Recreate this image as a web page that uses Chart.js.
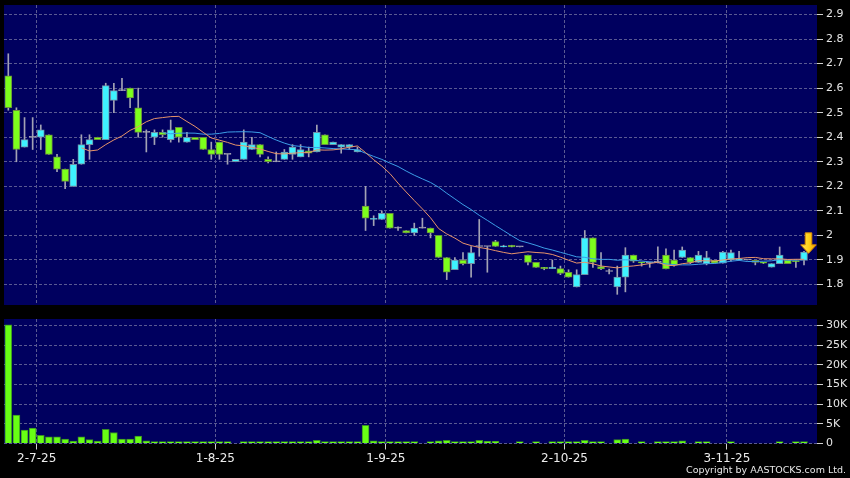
<!DOCTYPE html>
<html><head><meta charset="utf-8">
<script src="https://cdn.jsdelivr.net/npm/chart.js@4.4.1/dist/chart.umd.min.js"></script>
<style>
html,body{margin:0;padding:0;background:#000;width:850px;height:478px;overflow:hidden}
#wrap{position:relative;width:850px;height:478px;background:#000}
#pc{position:absolute;left:0;top:0}
#vc{position:absolute;left:0;top:312px}
#copy{position:absolute;right:4px;top:464px;color:#e8e8e8;font:9.5px "DejaVu Sans",sans-serif;line-height:12px;white-space:nowrap}
</style></head><body>
<div id="wrap">
<canvas id="pc" width="850" height="312"></canvas>
<canvas id="vc" width="850" height="166"></canvas>
<div id="copy">Copyright by AASTOCKS.com Ltd.</div>
</div>
<script>
// ---- data ----
const opens = [2.65,2.51,2.36,2.40,2.40,2.41,2.32,2.27,2.20,2.29, 2.37,2.40,2.39,2.55,2.59,2.60,2.52,2.42,2.40,2.42, 2.39,2.44,2.38,2.40,2.40,2.35,2.38,2.33,2.30,2.31, 2.35,2.37,2.31,2.30,2.31,2.33,2.32,2.345,2.34,2.41, 2.37,2.36,2.36,2.34,2.12,2.065,2.065,2.09,2.03,2.02, 2.01,2.03,2.03,2.00,1.91,1.86,1.90,1.885,1.955,1.955, 1.975,1.953,1.96,1.953,1.92,1.89,1.87,1.865,1.865,1.85, 1.79,1.84,1.99,1.873,1.853,1.79,1.83,1.92,1.89,1.888, 1.89,1.92,1.90,1.91,1.91,1.89,1.885,1.898,1.887,1.90, 1.90,1.90,1.898,1.89,1.871,1.885,1.90,1.895,1.898];
const highs = [2.74,2.52,2.48,2.48,2.45,2.41,2.33,2.27,2.31,2.41, 2.41,2.40,2.62,2.62,2.64,2.60,2.60,2.43,2.43,2.43, 2.47,2.44,2.42,2.40,2.40,2.38,2.38,2.33,2.31,2.43, 2.40,2.37,2.32,2.34,2.35,2.37,2.37,2.36,2.45,2.41, 2.38,2.37,2.37,2.36,2.20,2.08,2.10,2.09,2.035,2.02, 2.05,2.07,2.03,2.00,1.91,1.91,1.93,1.955,2.065,1.955, 1.98,1.96,1.96,1.953,1.92,1.89,1.87,1.90,1.875,1.86, 1.86,2.02,1.99,1.93,1.863,1.875,1.95,1.92,1.89,1.89, 1.953,1.945,1.94,1.953,1.91,1.935,1.935,1.898,1.935,1.94, 1.935,1.90,1.898,1.89,1.885,1.953,1.90,1.895,1.935];
const lows = [2.51,2.30,2.36,2.35,2.35,2.33,2.26,2.19,2.20,2.29, 2.31,2.39,2.39,2.50,2.59,2.52,2.40,2.34,2.37,2.40, 2.38,2.38,2.38,2.39,2.35,2.31,2.31,2.29,2.30,2.31, 2.35,2.32,2.295,2.30,2.31,2.31,2.32,2.32,2.34,2.37, 2.37,2.335,2.35,2.34,2.02,2.04,2.065,2.03,2.02,2.01, 2.00,2.03,1.99,1.91,1.82,1.86,1.88,1.83,1.915,1.85, 1.955,1.953,1.953,1.953,1.88,1.87,1.86,1.865,1.84,1.83, 1.79,1.84,1.87,1.86,1.843,1.76,1.77,1.89,1.875,1.87, 1.888,1.863,1.875,1.91,1.885,1.89,1.88,1.887,1.887,1.895, 1.90,1.90,1.88,1.885,1.871,1.885,1.885,1.87,1.88];
const closes = [2.52,2.35,2.39,2.40,2.43,2.33,2.27,2.22,2.29,2.37, 2.39,2.39,2.61,2.59,2.59,2.56,2.42,2.42,2.42,2.41, 2.43,2.40,2.40,2.39,2.35,2.33,2.33,2.33,2.31,2.38, 2.37,2.33,2.30,2.30,2.34,2.36,2.35,2.335,2.42,2.37, 2.38,2.37,2.37,2.35,2.07,2.07,2.09,2.03,2.03,2.01, 2.03,2.03,2.01,1.91,1.85,1.90,1.885,1.93,1.955,1.955, 1.955,1.958,1.953,1.953,1.89,1.87,1.865,1.87,1.845,1.83, 1.84,1.99,1.89,1.863,1.853,1.83,1.92,1.895,1.888,1.888, 1.89,1.863,1.88,1.94,1.89,1.92,1.91,1.887,1.932,1.93, 1.905,1.90,1.89,1.887,1.885,1.92,1.885,1.893,1.932];
const volumes = [30100,7200,3400,3900,2100,1700,1700,1100,600,1700, 1000,600,3600,2800,1100,1100,1900,700,400,250, 300,450,100,100,300,350,150,150,0,300, 50,100,100,100,100,100,100,300,800,300, 100,100,100,300,4600,700,100,500,100,300, 500,0,100,700,800,100,100,100,800,550, 550,0,0,100,0,100,0,100,100,100, 100,800,100,100,0,1000,1100,0,50,0, 300,300,50,700,0,50,50,0,0,100, 0,0,0,0,0,200,0,100,500];
const dateTickPos = [3.5, 25.5, 46.5, 68.5, 88.5];
const dateTickLabels = ['2-7-25','1-8-25','1-9-25','2-10-25','3-11-25'];
const priceTicks = [1.8,1.9,2.0,2.1,2.2,2.3,2.4,2.5,2.6,2.7,2.8,2.9];
const priceTickLabels = ['1.8','1.9','2','2.1','2.2','2.3','2.4','2.5','2.6','2.7','2.8','2.9'];
const volTicks = [0,5000,10000,15000,20000,25000,30000];
const volTickLabels = ['0','5K','10K','15K','20K','25K','30K'];
const maShortLen = 10, maLongLen = 20;

// ---- helpers ----
function sma(arr, n){ return arr.map((_, i) => i < n-1 ? null : arr.slice(i-n+1, i+1).reduce((a,b)=>a+b,0)/n); }
const idx = closes.map((_, i) => i);
const maShort = sma(closes, maShortLen);
const maLong = sma(closes, maLongLen);

Chart.defaults.font.family = '"DejaVu Sans", sans-serif';
const GRID = '#5a5a92';
const X_MIN = -0.53, X_MAX = 99.6;
const PLOT_BG = '#00005f';

const bgPlugin = { id:'plotbg', beforeDraw(chart){ const {ctx, chartArea:a} = chart; ctx.save(); ctx.fillStyle = PLOT_BG; ctx.fillRect(a.left, a.top, a.right-a.left, a.bottom-a.top); ctx.restore(); } };

function noPad(s){ s.paddingTop = 0; s.paddingBottom = 0; s.paddingLeft = 0; s.paddingRight = 0; }

function xScale(showLabels){
  return {
    type:'linear', min:X_MIN, max:X_MAX, offset:false,
    afterBuildTicks: s => { s.ticks = dateTickPos.map(v => ({value:v})); },
    ticks:{ display:showLabels, callback:(v,i)=>dateTickLabels[i], color:'#ececec', font:{size:12}, padding:2, maxRotation:0, autoSkip:false },
    grid:{ color:GRID, lineWidth:1, offset:false, drawTicks:showLabels, tickLength:6, tickColor:'#d0d0d0', tickBorderDash:[] },
    border:{ display:false, dash:[3,2] },
    afterFit: s => { s.height = showLabels ? 34.5 : 0; noPad(s); }
  };
}
function yScale(min, max, ticks, labels){
  return {
    type:'linear', position:'right', min:min, max:max,
    afterBuildTicks: s => { s.ticks = ticks.map(v => ({value:v})); },
    ticks:{ callback:(v,i)=>labels[i], color:'#e6e6e6', font:{size:11}, padding:3 },
    grid:{ color:GRID, lineWidth:1, drawTicks:true, tickLength:6, tickColor:'#d0d0d0', tickBorderDash:[] },
    border:{ display:false, dash:[3,2] },
    afterFit: s => { s.width = 33; noPad(s); }
  };
}

const UP = '#3ef2ff', UP_B = '#6f8ea6', DN = '#7dff1c', DN_B = '#6b8f3e', FLAT = '#a0a0b0';
const bodyColor = idx.map(i => closes[i] > opens[i] ? UP : (closes[i] < opens[i] ? DN : FLAT));
const bodyBorder = idx.map(i => closes[i] > opens[i] ? UP_B : (closes[i] < opens[i] ? DN_B : FLAT));

const arrowPlugin = { id:'arrow', afterDatasetsDraw(chart){
  const i = closes.length - 1;
  const cx = chart.scales.x.getPixelForValue(i) + 4.5;
  const tip = chart.scales.y.getPixelForValue(highs[i]) + 2;
  const ctx = chart.ctx;
  ctx.save();
  ctx.beginPath();
  ctx.moveTo(cx-3.3, tip-20.5); ctx.lineTo(cx+3.3, tip-20.5); ctx.lineTo(cx+3.3, tip-8.5);
  ctx.lineTo(cx+7.8, tip-8.5); ctx.lineTo(cx, tip); ctx.lineTo(cx-7.8, tip-8.5); ctx.lineTo(cx-3.3, tip-8.5);
  ctx.closePath();
  const g = ctx.createLinearGradient(cx-7.8, 0, cx+7.8, 0);
  g.addColorStop(0, '#ffe75a'); g.addColorStop(0.5, '#ffd21a'); g.addColorStop(1, '#f0a000');
  ctx.fillStyle = g; ctx.fill();
  ctx.strokeStyle = '#d98a00'; ctx.lineWidth = 1; ctx.stroke();
  ctx.restore();
}};

new Chart(document.getElementById('pc'), {
  type:'bar',
  data:{ datasets:[
    { type:'line', label:'MA10', data: idx.map(i => ({x:i, y:maShort[i]})), borderColor:'#e8946a', borderWidth:1, pointRadius:0, tension:0, order:0 },
    { type:'line', label:'MA20', data: idx.map(i => ({x:i, y:maLong[i]})), borderColor:'#3d9ee6', borderWidth:1, pointRadius:0, tension:0, order:1 },
    { type:'bar', label:'body', data: idx.map(i => ({x:i, y:[opens[i], closes[i]]})), backgroundColor:bodyColor, borderColor:bodyBorder, borderWidth:1, borderSkipped:false, barThickness:7, minBarLength:1, grouped:false, order:2 },
    { type:'bar', label:'wick', data: idx.map(i => ({x:i, y:[lows[i], highs[i]]})), backgroundColor:'#a3a3b4', borderWidth:0, barThickness:1, grouped:false, order:3 }
  ]},
  options:{
    responsive:false, animation:false, events:[],
    layout:{ padding:{ left:4, top:5, right:0, bottom:7 } },
    plugins:{ legend:{display:false}, tooltip:{enabled:false} },
    scales:{ x: xScale(false), y: yScale(1.7165, 2.9387, priceTicks, priceTickLabels) }
  },
  plugins:[bgPlugin, arrowPlugin]
});

new Chart(document.getElementById('vc'), {
  type:'bar',
  data:{ datasets:[
    { label:'Volume', data: idx.map(i => ({x:i, y: volumes[i] > 0 ? volumes[i] : null})), backgroundColor:'#68ff14', borderColor:'#3a8f24', borderWidth:1, barThickness:7, minBarLength:2, grouped:false }
  ]},
  options:{
    responsive:false, animation:false, events:[],
    layout:{ padding:{ left:4, top:7, right:0, bottom:0 } },
    plugins:{ legend:{display:false}, tooltip:{enabled:false} },
    scales:{ x: xScale(true), y: yScale(0, 31600, volTicks, volTickLabels) }
  },
  plugins:[bgPlugin]
});
</script>
</body></html>
